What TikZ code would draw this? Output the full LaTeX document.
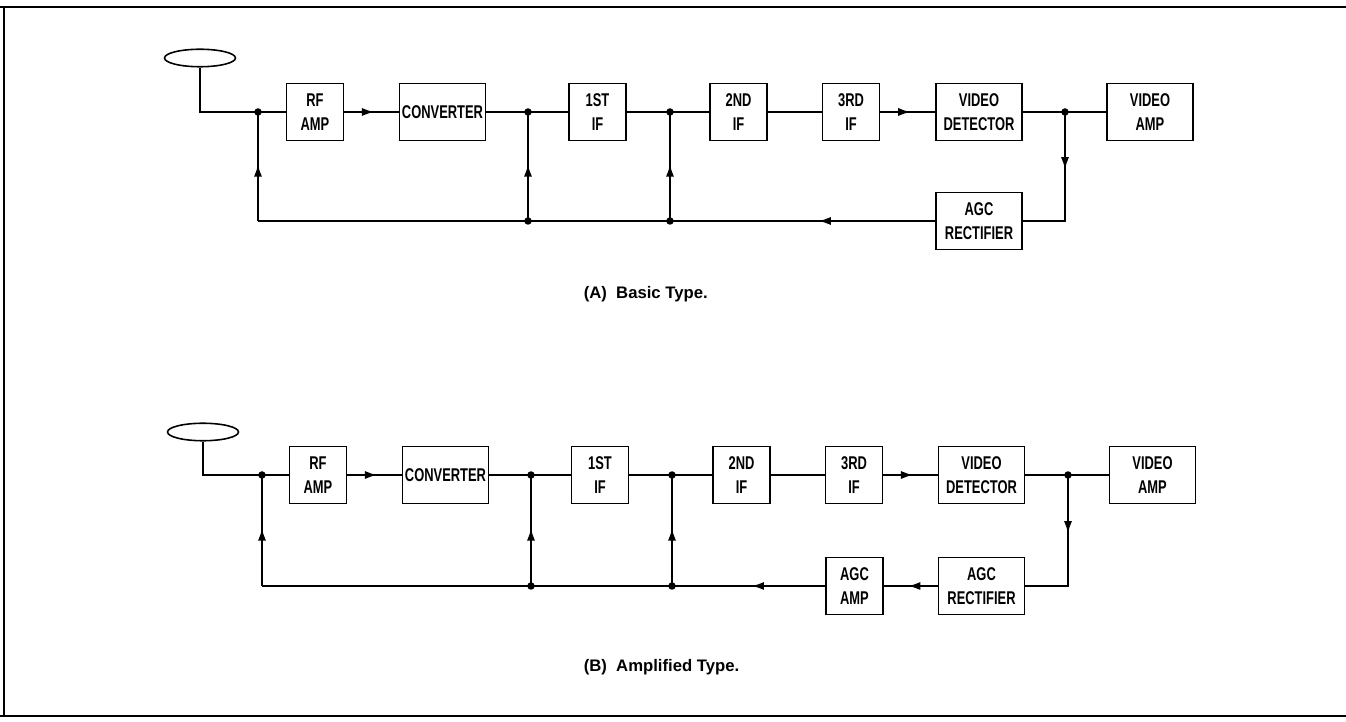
\documentclass[tikz,border=0pt]{standalone}
\usepackage{fontspec}
\setmainfont{Liberation Sans}
\newfontfamily\blockfont[FakeStretch=0.7]{Liberation Sans}
\usetikzlibrary{arrows.meta,decorations.markings,shapes.geometric}

\begin{document}
\begin{tikzpicture}[x=0.02cm, y=-0.02cm, line width=0.9pt]
  \tikzset{
    block_box/.style={draw, line width=0.9pt, minimum width=1.14cm, minimum height=1.14cm, inner sep=0pt, align=center, font=\blockfont\bfseries\fontsize{10.5}{13.5}\selectfont},
    wide_box/.style={block_box, minimum width=1.72cm},
    antenna/.style={ellipse, draw, line width=0.9pt, minimum width=1.42cm, minimum height=0.35cm, inner sep=0pt},
    mid_arrow/.style={postaction={decorate}, decoration={markings, mark=at position #1 with {\arrow{Latex[length=7pt,width=4.6pt]}}}},
    mid_arrow/.default=0.5,
    caption_text/.style={anchor=west, inner sep=0pt, font=\bfseries\fontsize{9.5}{11}\selectfont}
  }
  \useasboundingbox (0,0) rectangle (1346,722);

  % Marco
  \draw[line width=1.2pt] (0,7) -- (1346,7);
  \draw[line width=1.2pt] (4,7) -- (4,716);
  \draw[line width=1.2pt] (0,716) -- (1346,716);

  % (A) Bloques
  \node[antenna] (antA) at (200,58) {};
  \node[block_box] (rfA) at (315,112) {RF\\AMP};
  \node[wide_box] (convA) at (442.5,112) {CONVERTER};
  \node[block_box] (if1A) at (597.5,112) {1ST\\IF};
  \node[block_box] (if2A) at (738.5,112) {2ND\\IF};
  \node[block_box] (if3A) at (851,112) {3RD\\IF};
  \node[wide_box] (detA) at (979,112) {VIDEO\\DETECTOR};
  \node[wide_box] (vampA) at (1150,112) {VIDEO\\AMP};
  \node[wide_box] (agcrA) at (979,221) {AGC\\RECTIFIER};

  % (A) Uniones
  \coordinate (jA1) at (258,112);
  \coordinate (jA2) at (528,112);
  \coordinate (jA3) at (670,112);
  \coordinate (jA4) at (1065,112);
  \coordinate (cA1) at (258,221);
  \coordinate (jA5) at (528,221);
  \coordinate (jA6) at (670,221);

  % (A) Conexiones
  \draw (antA.south) |- (jA1) -- (rfA);
  \draw[mid_arrow=0.55] (rfA) -- (convA);
  \draw (convA) -- (if1A);
  \draw (if1A) -- (if2A);
  \draw (if2A) -- (if3A);
  \draw[mid_arrow=0.55] (if3A) -- (detA);
  \draw (detA) -- (vampA);
  \draw[mid_arrow=0.38] (jA4) |- (agcrA.east);
  \draw[mid_arrow=0.44] (agcrA.west) -- (jA6);
  \draw (jA6) -- (jA5) -- (cA1);
  \draw[mid_arrow=0.52] (cA1) -- (jA1);
  \draw[mid_arrow=0.52] (jA5) -- (jA2);
  \draw[mid_arrow=0.52] (jA6) -- (jA3);
  \foreach \j in {jA1,jA2,jA3,jA4,jA5,jA6}
    \fill (\j) circle (0.075cm);

  \node[caption_text] (capA) at (583,294) {(A)\ \ Basic Type.};

  % (B) Bloques
  \node[antenna] (antB) at (203,432) {};
  \node[block_box] (rfB) at (318,475) {RF\\AMP};
  \node[wide_box] (convB) at (445.5,475) {CONVERTER};
  \node[block_box] (if1B) at (600,475) {1ST\\IF};
  \node[block_box] (if2B) at (741.5,475) {2ND\\IF};
  \node[block_box] (if3B) at (854,475) {3RD\\IF};
  \node[wide_box] (detB) at (981.5,475) {VIDEO\\DETECTOR};
  \node[wide_box] (vampB) at (1152.5,475) {VIDEO\\AMP};
  \node[wide_box] (agcrB) at (981.5,586) {AGC\\RECTIFIER};
  \node[block_box] (agcaB) at (854.5,586) {AGC\\AMP};

  % (B) Uniones
  \coordinate (jB1) at (262,475);
  \coordinate (jB2) at (531,475);
  \coordinate (jB3) at (672,475);
  \coordinate (jB4) at (1068,475);
  \coordinate (cB1) at (262,586);
  \coordinate (jB5) at (531,586);
  \coordinate (jB6) at (672,586);

  % (B) Conexiones
  \draw (antB.south) |- (jB1) -- (rfB);
  \draw[mid_arrow=0.55] (rfB) -- (convB);
  \draw (convB) -- (if1B);
  \draw (if1B) -- (if2B);
  \draw (if2B) -- (if3B);
  \draw[mid_arrow=0.55] (if3B) -- (detB);
  \draw (detB) -- (vampB);
  \draw[mid_arrow=0.38] (jB4) |- (agcrB.east);
  \draw[mid_arrow=0.55] (agcrB) -- (agcaB);
  \draw[mid_arrow=0.48] (agcaB.west) -- (jB6);
  \draw (jB6) -- (jB5) -- (cB1);
  \draw[mid_arrow=0.52] (cB1) -- (jB1);
  \draw[mid_arrow=0.52] (jB5) -- (jB2);
  \draw[mid_arrow=0.52] (jB6) -- (jB3);
  \foreach \j in {jB1,jB2,jB3,jB4,jB5,jB6}
    \fill (\j) circle (0.075cm);

  \node[caption_text] (capB) at (583,667) {(B)\ \ Amplified Type.};
\end{tikzpicture}
\end{document}
